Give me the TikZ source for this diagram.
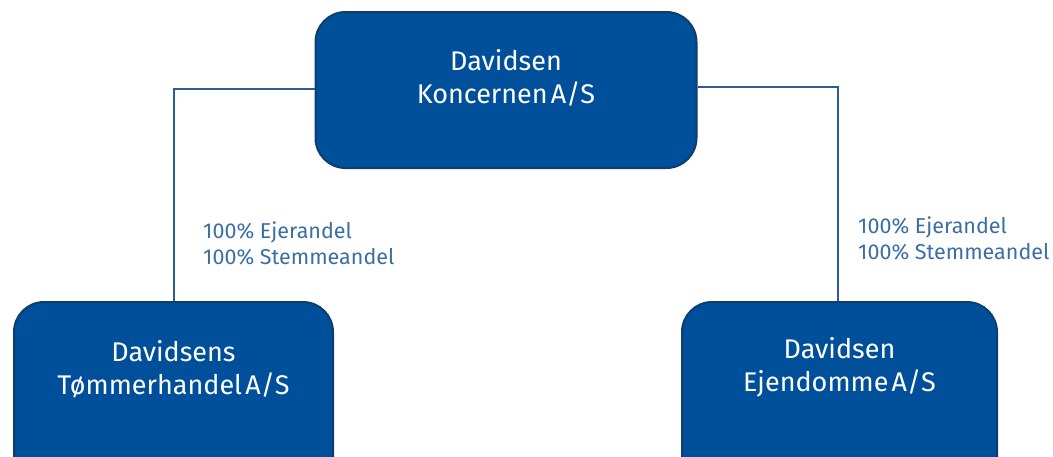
\documentclass[tikz,border=0pt]{standalone}
\usepackage{fontspec}
\setmainfont{Fira Sans}
\definecolor{boxfill}{RGB}{0,79,154}
\definecolor{boxedge}{RGB}{12,62,112}
\definecolor{linecol}{RGB}{47,92,143}
\definecolor{labcol}{RGB}{58,110,165}
\newcommand{\tsp}{\hspace{0.12em}}
\begin{document}
\begin{tikzpicture}[x=1pt,y=-1pt,
  company/.style={draw=boxedge,line width=2pt,fill=boxfill,rounded corners=30pt},
  ctext/.style={text=white,align=center,font=\fontsize{27}{33}\selectfont},
  conn/.style={draw=linecol,line width=1.2pt},
  share/.style={text=labcol,align=left,anchor=north west,inner sep=0pt,font=\fontsize{21.5}{26}\selectfont}]
\useasboundingbox (0,0) rectangle (1053,456);
\clip (0,0) rectangle (1053,456);
\node[company,minimum width=381pt,minimum height=156pt] (top) at (506,90) {};
\node[ctext] (toptext) at (506,78) {Davidsen\\Koncernen\tsp A/S};
\node[company,minimum width=319pt,minimum height=200pt] (left) at (173.5,402) {};
\node[ctext] (lefttext) at (173.5,369) {Davidsens\\Tømmerhandel\tsp A/S};
\node[company,minimum width=315pt,minimum height=200pt] (right) at (839.5,402) {};
\node[ctext] (righttext) at (839.5,367) {Davidsen\\Ejendomme\tsp A/S};
\coordinate (lc) at (174,89);
\coordinate (rc) at (838,87);
\draw[conn] (top.west |- lc) -- (lc) -- (lc |- left.north);
\draw[conn] (top.east |- rc) -- (rc) -- (rc |- right.north);
\node[share] (lshare) at (203,222) {100\% Ejerandel\\100\% Stemmeandel};
\node[share] (rshare) at (858,217) {100\% Ejerandel\\100\% Stemmeandel};
\end{tikzpicture}
\end{document}
